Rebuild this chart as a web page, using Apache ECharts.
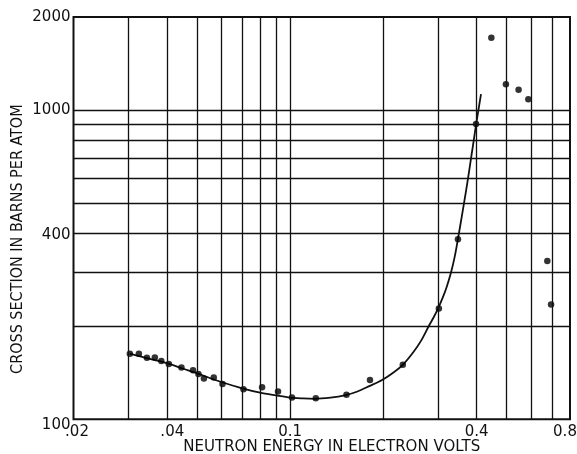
<!DOCTYPE html>
<html>
<head>
<meta charset="utf-8">
<script src="https://cdn.jsdelivr.net/npm/echarts@6/dist/echarts.min.js"></script>
<style>
html,body{margin:0;padding:0;background:#fff;}
#chart{width:577px;height:454px;}
</style>
</head>
<body>
<div id="chart"></div>
<script>
// Measured data points (energy in eV, cross section in barns/atom)
const dotEnergy = [0.0304,0.0325,0.0345,0.0366,0.0384,0.0406,0.0446,0.0486,0.0506,0.0527,0.0567,0.0605,0.0707,0.0812,0.0914,0.1014,0.121,0.152,0.181,0.231,0.302,0.348,0.398,0.446,0.497,0.546,0.587,0.676,0.695];
const dotSigma  = [163,163,158,158.5,154.5,151,147,144,140,135.6,136.6,130,125,127,123,117.6,117,120,134,150,228,382,901,1715,1213,1163,1085,325,235];

// Hand-drawn fitted curve
const curveEnergy = [0.0304,0.035,0.04,0.045,0.05,0.055,0.06,0.07,0.08,0.09,0.10,0.11,0.12,0.135,0.15,0.165,0.18,0.198,0.215,0.231,0.25,0.265,0.28,0.29,0.30,0.31,0.32,0.33,0.34,0.348,0.36,0.37,0.38,0.39,0.398,0.413];
const curveSigma  = [163,157,152,146,141,136,132,126,122,119.5,117.5,116.8,116.5,117.5,119.5,123,128,134,141.5,150,165,180,200,213,228,246,268,296.5,337,383,468,552,656,781,895,1126];

// Grid lines and tick labels
const xGridValues = [0.03,0.04,0.05,0.06,0.07,0.08,0.09,0.1,0.2,0.3,0.4,0.5,0.6,0.7];
const yGridValues = [200,300,400,500,600,700,800,900,1000];
const xTickValues = [0.02,0.04,0.1,0.4,0.8];
const xTickLabels = ['.02','.04','0.1','0.4','0.8'];
const yTickValues = [100,400,1000,2000];
const yTickLabels = ['100','400','1000','2000'];

const chart = echarts.init(document.getElementById('chart'), null, {renderer:'canvas'});
const ink = '#111';
const font = 'DejaVu Sans';
const xRich = ['a','b','c','d','e'];
const yRich = ['p','q','r','s'];

const option = {
  animation: false,
  backgroundColor: '#fff',
  grid: {left: 73.5, right: 7, top: 17, bottom: 34.7, show: true, borderColor: ink, borderWidth: 2,
         backgroundColor: 'transparent', outerBoundsMode: 'none', containLabel: false},
  xAxis: {
    type: 'log', logBase: 10, min: 0.02, max: 0.8,
    name: 'NEUTRON ENERGY IN ELECTRON VOLTS',
    nameLocation: 'middle', nameGap: 20, nameMoveOverlap: false,
    nameTextStyle: {fontFamily: font, fontSize: 15, color: ink, padding: [0,0,0,20]},
    axisLine: {show: false}, axisTick: {show: false}, splitLine: {show: false},
    axisLabel: {
      show: true, customValues: xTickValues, margin: 5,
      fontFamily: font, fontSize: 15, color: ink,
      formatter: function (v) {
        const i = xTickValues.findIndex(t => Math.abs(t - v) < 1e-9);
        return i >= 0 ? '{' + xRich[i] + '|' + xTickLabels[i] + '}' : '';
      },
      rich: {
        a: {fontFamily: font, fontSize: 15, color: ink, padding: [0,0,0,7]},
        b: {fontFamily: font, fontSize: 15, color: ink, padding: [0,0,0,11]},
        c: {fontFamily: font, fontSize: 15, color: ink},
        d: {fontFamily: font, fontSize: 15, color: ink},
        e: {fontFamily: font, fontSize: 15, color: ink, padding: [0,10,0,0]}
      }
    }
  },
  yAxis: {
    type: 'log', logBase: 10, min: 100, max: 2000,
    name: 'CROSS SECTION IN BARNS PER ATOM',
    nameLocation: 'middle', nameGap: 48, nameRotate: 90, nameMoveOverlap: false,
    nameTextStyle: {fontFamily: 'DejaVu Sans Condensed, DejaVu Sans', fontSize: 16, color: ink, padding: [0,42,0,0]},
    axisLine: {show: false}, axisTick: {show: false}, splitLine: {show: false},
    axisLabel: {
      show: true, customValues: yTickValues, margin: 3,
      fontFamily: font, fontSize: 15, color: ink,
      formatter: function (v) {
        const i = yTickValues.findIndex(t => Math.abs(t - v) < 1e-6);
        return i >= 0 ? '{' + yRich[i] + '|' + yTickLabels[i] + '}' : '';
      },
      rich: {
        p: {fontFamily: font, fontSize: 15, color: ink, padding: [12,0,0,0]},
        q: {fontFamily: font, fontSize: 15, color: ink, padding: [3,0,0,0]},
        r: {fontFamily: font, fontSize: 15, color: ink},
        s: {fontFamily: font, fontSize: 15, color: ink}
      }
    }
  },
  series: [
    {
      type: 'line', data: [], silent: true, z: 1,
      markLine: {
        silent: true, symbol: ['none','none'], animation: false,
        label: {show: false},
        lineStyle: {color: ink, width: 1.3, type: 'solid'},
        data: xGridValues.map(v => ({xAxis: v})).concat(yGridValues.map(v => ({yAxis: v})))
      }
    },
    {
      type: 'line', z: 3,
      data: curveEnergy.map((e, i) => [e, curveSigma[i]]),
      smooth: 0.3, showSymbol: false, symbol: 'none',
      lineStyle: {color: ink, width: 1.8}
    },
    {
      type: 'scatter', z: 4,
      data: dotEnergy.map((e, i) => [e, dotSigma[i]]),
      symbol: 'circle', symbolSize: 6.5,
      itemStyle: {color: '#000'}
    }
  ]
};
chart.setOption(option);
</script>
</body>
</html>
